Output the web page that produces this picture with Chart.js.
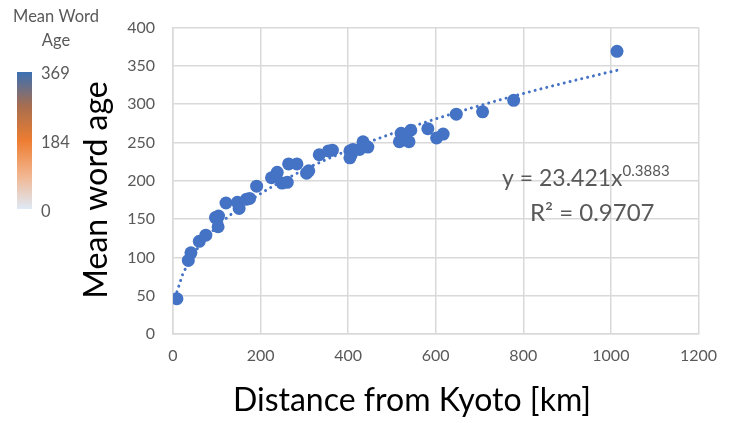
<!DOCTYPE html>
<html>
<head>
<meta charset="utf-8">
<script src="https://cdn.jsdelivr.net/npm/chart.js@4/dist/chart.umd.min.js"></script>
<style>
html,body{margin:0;padding:0;background:#fff;}
#wrap{width:729px;height:423px;}
</style>
</head>
<body>
<div id="wrap"><canvas id="c" width="729" height="423"></canvas></div>
<script>
// Data
const distanceKm = [9,35,41,60,75,97,104,103,121,147,151,168,175,191,225,238,249,261,264,283,305,310,334,355,364,404,407,404,411,426,434,445,517,521,530,539,543,582,602,617,647,707,778,1014];
const meanWordAge = [46,96,106,121,129,152,154,140,171,172,164,176,177,193,204,211,197,198,222,222,210,213,234,239,240,239,234,230,241,241,251,244,251,262,254,251,266,268,256,261,287,290,305,369];
const xTicks = [0,200,400,600,800,1000,1200];
const yTicks = [0,50,100,150,200,250,300,350,400];
const colorbarLabels = ['369','184','0'];
const trendCoef = 23.421;
const trendExp = 0.3883;

const points = distanceKm.map((d,i)=>({x:d,y:meanWordAge[i]}));
const xMin = Math.min(...distanceKm), xMax = Math.max(...distanceKm);
const trend = [];
for (let i=0;i<=80;i++){ const x = xMin + (xMax-xMin)*i/80; trend.push({x:x,y:trendCoef*Math.pow(x,trendExp)}); }

const FONT = 'Lato, "Open Sans", sans-serif';
const extras = {
  id:'extras',
  afterDraw(chart){
    const ctx = chart.ctx;
    ctx.save();
    // colorbar legend
    ctx.fillStyle = '#595959';
    ctx.font = '16.5px ' + FONT;
    ctx.textAlign = 'center'; ctx.textBaseline = 'middle';
    ctx.fillText('Mean Word', 56, 17);
    ctx.fillText('Age', 56, 41);
    const g = ctx.createLinearGradient(0,72,0,209);
    g.addColorStop(0,'#3a70b3');
    g.addColorStop(0.25,'#a86e4f');
    g.addColorStop(0.5,'#ed7d31');
    g.addColorStop(0.75,'#f2b48d');
    g.addColorStop(1,'#deeaf6');
    ctx.fillStyle = g;
    ctx.fillRect(17,72,15,137);
    ctx.fillStyle = '#595959';
    ctx.textAlign = 'left';
    ctx.fillText(colorbarLabels[0], 41, 74);
    ctx.fillText(colorbarLabels[1], 41, 143);
    ctx.fillText(colorbarLabels[2], 41, 212);
    // axis titles
    ctx.fillStyle = '#000';
    ctx.font = '32px ' + FONT;
    ctx.textAlign = 'center'; ctx.textBaseline = 'middle';
    ctx.fillText('Distance from Kyoto [km]', 412, 401);
    ctx.translate(97,190);
    ctx.rotate(-Math.PI/2);
    ctx.fillText('Mean word age', 0, 0);
    ctx.restore();
    // equation
    ctx.save();
    ctx.fillStyle = '#595959';
    ctx.textBaseline = 'alphabetic';
    ctx.textAlign = 'left';
    ctx.font = '23px ' + FONT;
    const base = 'y = 23.421x';
    ctx.fillText(base, 502, 186);
    const w = ctx.measureText(base).width;
    ctx.font = '15px ' + FONT;
    ctx.fillText('0.3883', 502 + w, 176);
    ctx.font = '24px ' + FONT;
    ctx.fillText('R² = 0.9707', 530, 221);
    ctx.restore();
  }
};

new Chart(document.getElementById('c'), {
  type:'scatter',
  data:{datasets:[
    {label:'Trend', data:trend, showLine:true, pointRadius:0, borderColor:'#4472C4', borderWidth:3, borderDash:[0.01,6], borderCapStyle:'round', fill:false, order:2},
    {label:'Mean word age', data:points, pointRadius:6.5, pointHoverRadius:6.5, backgroundColor:'#4472C4', borderWidth:0, order:1}
  ]},
  options:{
    responsive:false, animation:false,
    layout:{padding:{left:0,right:25,top:20,bottom:0}},
    plugins:{legend:{display:false}, tooltip:{enabled:false}},
    scales:{
      x:{type:'linear', min:0, max:1200,
        afterBuildTicks(s){ s.ticks = xTicks.map(v=>({value:v})); },
        afterFit(s){ s.height = 89; },
        grid:{color:'#d9d9d9', lineWidth:1.5, drawTicks:false},
        border:{color:'#d9d9d9', width:1.5},
        ticks:{color:'#595959', font:{size:16, family:FONT}, padding:12, maxRotation:0, callback:v=>String(v)}
      },
      y:{type:'linear', min:0, max:400,
        afterBuildTicks(s){ s.ticks = yTicks.map(v=>({value:v})); },
        afterFit(s){ s.width = 173; },
        grid:{color:'#d9d9d9', lineWidth:1.5, drawTicks:false},
        border:{color:'#d9d9d9', width:1.5},
        ticks:{color:'#595959', font:{size:16, family:FONT}, padding:18, callback:v=>String(v)}
      }
    }
  },
  plugins:[extras]
});
</script>
</body>
</html>
